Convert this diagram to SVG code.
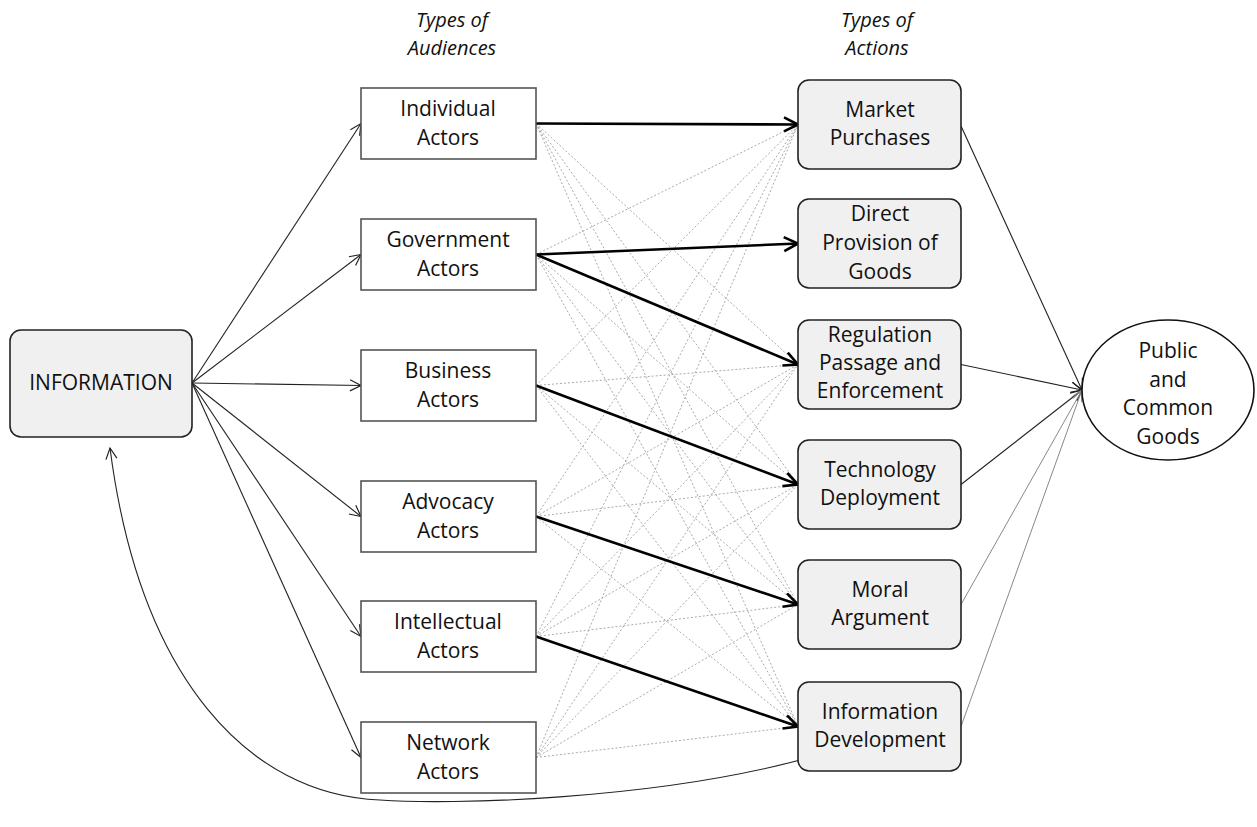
<svg xmlns="http://www.w3.org/2000/svg" width="1257" height="827" viewBox="0 0 1257 827">
<style>
text{font-family:"Open Sans","Liberation Sans",sans-serif;font-size:21px;fill:#111;text-anchor:middle}
.hdr{font-style:italic;font-size:20px}
.aud{fill:#fff;stroke:#555;stroke-width:1.6}
.act{fill:#f0f0f0;stroke:#222;stroke-width:1.6}
.thin{stroke:#222;stroke-width:1.1;fill:none}
.bold{stroke:#000;stroke-width:2.6;fill:none}
.dot{stroke:#aaa;stroke-width:1;stroke-dasharray:2 2;fill:none}
.gray{stroke:#888;stroke-width:1;fill:none}
</style>
<defs>
<marker id="ah" markerUnits="userSpaceOnUse" markerWidth="14" markerHeight="14" refX="12" refY="6" orient="auto"><path d="M1,0.5 L12,6 L1,11.5" fill="none" stroke="#222" stroke-width="1.2"/></marker>
<marker id="ahb" markerUnits="userSpaceOnUse" markerWidth="18" markerHeight="18" refX="15" refY="8" orient="auto"><path d="M1,1 L15,8 L1,15" fill="none" stroke="#000" stroke-width="2.6"/></marker>
<marker id="ahg" markerUnits="userSpaceOnUse" markerWidth="14" markerHeight="14" refX="12" refY="6" orient="auto"><path d="M1,0.5 L12,6 L1,11.5" fill="none" stroke="#888" stroke-width="1"/></marker>
</defs>

<g id="headers">
<text class="hdr" x="452" y="27">Types of</text>
<text class="hdr" x="452" y="55">Audiences</text>
<text class="hdr" x="877" y="27">Types of</text>
<text class="hdr" x="877" y="55">Actions</text>
</g>

<g id="connectors">
<g class="dot">
<line x1="536" y1="123.5" x2="798" y2="364.5"/>
<line x1="536" y1="123.5" x2="798" y2="484.5"/>
<line x1="536" y1="123.5" x2="798" y2="604.5"/>
<line x1="536" y1="123.5" x2="798" y2="726.5"/>
<line x1="536" y1="254.5" x2="798" y2="124.5"/>
<line x1="536" y1="254.5" x2="798" y2="484.5"/>
<line x1="536" y1="254.5" x2="798" y2="604.5"/>
<line x1="536" y1="254.5" x2="798" y2="726.5"/>
<line x1="536" y1="385.5" x2="798" y2="124.5"/>
<line x1="536" y1="385.5" x2="798" y2="364.5"/>
<line x1="536" y1="385.5" x2="798" y2="604.5"/>
<line x1="536" y1="385.5" x2="798" y2="726.5"/>
<line x1="536" y1="516.5" x2="798" y2="124.5"/>
<line x1="536" y1="516.5" x2="798" y2="364.5"/>
<line x1="536" y1="516.5" x2="798" y2="484.5"/>
<line x1="536" y1="516.5" x2="798" y2="726.5"/>
<line x1="536" y1="636.5" x2="798" y2="124.5"/>
<line x1="536" y1="636.5" x2="798" y2="364.5"/>
<line x1="536" y1="636.5" x2="798" y2="484.5"/>
<line x1="536" y1="636.5" x2="798" y2="604.5"/>
<line x1="536" y1="757.5" x2="798" y2="124.5"/>
<line x1="536" y1="757.5" x2="798" y2="364.5"/>
<line x1="536" y1="757.5" x2="798" y2="484.5"/>
<line x1="536" y1="757.5" x2="798" y2="604.5"/>
<line x1="536" y1="757.5" x2="798" y2="726.5"/>
</g>
<line class="thin" x1="192" y1="383" x2="361" y2="123.5" marker-end="url(#ah)"/>
<line class="thin" x1="192" y1="383" x2="361" y2="254.5" marker-end="url(#ah)"/>
<line class="thin" x1="192" y1="383" x2="361" y2="385.5" marker-end="url(#ah)"/>
<line class="thin" x1="192" y1="383" x2="361" y2="516.5" marker-end="url(#ah)"/>
<line class="thin" x1="192" y1="383" x2="361" y2="636.5" marker-end="url(#ah)"/>
<line class="thin" x1="192" y1="383" x2="361" y2="757.5" marker-end="url(#ah)"/>
<line class="bold" x1="536" y1="123.5" x2="798" y2="124.5" marker-end="url(#ahb)"/>
<line class="bold" x1="536" y1="254.5" x2="798" y2="243.5" marker-end="url(#ahb)"/>
<line class="bold" x1="536" y1="254.5" x2="798" y2="364.5" marker-end="url(#ahb)"/>
<line class="bold" x1="536" y1="385.5" x2="798" y2="484.5" marker-end="url(#ahb)"/>
<line class="bold" x1="536" y1="516.5" x2="798" y2="604.5" marker-end="url(#ahb)"/>
<line class="bold" x1="536" y1="636.5" x2="798" y2="726.5" marker-end="url(#ahb)"/>
<line class="thin" x1="961" y1="126" x2="1082" y2="390" marker-end="url(#ah)"/>
<line class="thin" x1="961" y1="364.5" x2="1082" y2="390" marker-end="url(#ah)"/>
<line class="thin" x1="961" y1="484.5" x2="1082" y2="390" marker-end="url(#ah)"/>
<line class="gray" x1="961" y1="604.5" x2="1082" y2="390" marker-end="url(#ahg)"/>
<line class="gray" x1="961" y1="726.5" x2="1082" y2="390" marker-end="url(#ahg)"/>
<path class="thin" d="M800,760 C650,800 450,805 380,800 C250,795 140,680 110,448" marker-end="url(#ah)"/>
</g>

<g id="information">
<rect class="act" x="10" y="330" width="182" height="107" rx="11"/>
<text x="101" y="390">INFORMATION</text>
</g>

<g id="individual"><rect class="aud" x="361" y="88" width="175" height="71"/><text x="448" y="116">Individual</text><text x="448" y="145">Actors</text></g>
<g id="government"><rect class="aud" x="361" y="219" width="175" height="71"/><text x="448" y="247">Government</text><text x="448" y="276">Actors</text></g>
<g id="business"><rect class="aud" x="361" y="350" width="175" height="71"/><text x="448" y="378">Business</text><text x="448" y="407">Actors</text></g>
<g id="advocacy"><rect class="aud" x="361" y="481" width="175" height="71"/><text x="448" y="509">Advocacy</text><text x="448" y="538">Actors</text></g>
<g id="intellectual"><rect class="aud" x="361" y="601" width="175" height="71"/><text x="448" y="629">Intellectual</text><text x="448" y="658">Actors</text></g>
<g id="network"><rect class="aud" x="361" y="722" width="175" height="71"/><text x="448" y="750">Network</text><text x="448" y="779">Actors</text></g>

<g id="market"><rect class="act" x="798" y="80" width="163" height="89" rx="11"/><text x="880" y="117">Market</text><text x="880" y="145">Purchases</text></g>
<g id="direct"><rect class="act" x="798" y="199" width="163" height="89" rx="11"/><text x="880" y="221">Direct</text><text x="880" y="250">Provision of</text><text x="880" y="279">Goods</text></g>
<g id="regulation"><rect class="act" x="798" y="320" width="163" height="89" rx="11"/><text x="880" y="342">Regulation</text><text x="880" y="370">Passage and</text><text x="880" y="398">Enforcement</text></g>
<g id="technology"><rect class="act" x="798" y="440" width="163" height="89" rx="11"/><text x="880" y="477">Technology</text><text x="880" y="505">Deployment</text></g>
<g id="moral"><rect class="act" x="798" y="560" width="163" height="89" rx="11"/><text x="880" y="597">Moral</text><text x="880" y="625">Argument</text></g>
<g id="infodev"><rect class="act" x="798" y="682" width="163" height="89" rx="11"/><text x="880" y="719">Information</text><text x="880" y="747">Development</text></g>

<g id="goods">
<ellipse cx="1168" cy="390" rx="86" ry="70" fill="#fff" stroke="#111" stroke-width="1.6"/>
<text x="1168" y="358">Public</text>
<text x="1168" y="387">and</text>
<text x="1168" y="415">Common</text>
<text x="1168" y="444">Goods</text>
</g>
</svg>
